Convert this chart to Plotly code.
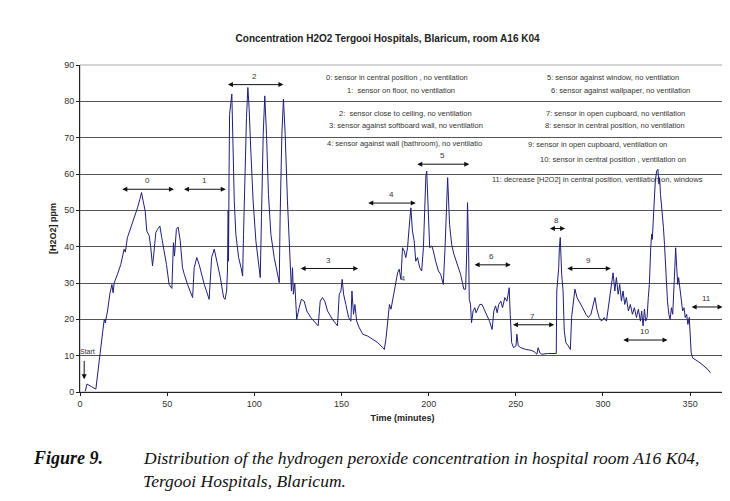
import plotly.graph_objects as go

# H2O2 readings (time in minutes, concentration in ppm)
time_min = [
    3.0, 4.0, 6.5, 9.1, 11.0, 12.9, 13.9, 14.5, 15.8, 17.1, 18.3, 19.0, 19.6, 21.5, 23.4,
    25.3, 26.0, 27.2, 29.2, 31.1, 33.0, 34.3, 35.3, 36.2, 37.4, 38.3, 39.7, 40.6, 41.6,
    42.5, 43.5, 44.5, 45.8, 46.9, 48.3, 49.6, 51.1, 52.7, 53.6, 54.2, 55.3, 56.3, 57.5,
    58.8, 59.8, 61.7, 64.6, 65.5, 67.0, 68.4, 71.3, 74.1, 75.5, 77.0, 78.5, 80.5, 82.4,
    83.2, 84.1, 84.6, 85.0, 85.2, 85.5, 85.8, 87.1, 87.5, 88.5, 89.4, 91.0, 92.4, 93.3,
    93.8, 94.6, 95.5, 96.3, 97.0, 98.0, 99.3, 100.9, 102.4, 103.4, 104.1, 105.1, 106.0,
    107.0, 108.1, 109.5, 111.4, 113.3, 114.3, 114.8, 115.8, 116.7, 117.7, 119.0, 120.0,
    120.5, 121.3, 121.9, 122.4, 123.2, 124.3, 125.7, 127.0, 128.6, 130.1, 132.4, 135.3,
    136.6, 137.8, 139.1, 140.4, 142.0, 144.8, 147.7, 148.7, 149.7, 150.4, 151.2, 152.5,
    154.1, 155.4, 156.0, 156.9, 157.7, 158.7, 160.2, 162.2, 165.0, 167.9, 170.8, 173.7,
    174.6, 175.6, 176.5, 177.5, 178.4, 180.0, 181.3, 182.2, 183.1, 184.1, 185.0, 186.0,
    186.9, 187.9, 188.8, 189.8, 190.7, 191.7, 192.6, 193.6, 194.9, 196.0, 197.0, 197.8,
    198.4, 198.9, 199.7, 200.6, 201.8, 202.7, 204.0, 205.6, 206.9, 208.4, 209.4, 210.1,
    210.9, 212.0, 213.2, 214.5, 216.4, 218.3, 220.2, 221.2, 221.9, 222.3, 222.9, 223.3,
    224.0, 224.6, 225.5, 226.5, 227.2, 228.4, 229.3, 230.6, 232.2, 233.5, 234.9, 236.4,
    237.4, 238.4, 239.3, 240.2, 241.4, 242.4, 243.7, 244.9, 246.2, 246.8, 247.6, 248.7,
    250.1, 250.6, 251.4, 252.9, 255.8, 258.6, 260.5, 262.1, 262.8, 263.8, 264.9, 268.2,
    273.2, 273.5, 274.0, 274.6, 275.0, 275.5, 276.3, 277.1, 277.8, 278.7, 280.1, 281.3,
    282.0, 283.0, 283.9, 285.1, 286.4, 288.3, 290.2, 291.6, 293.1, 294.4, 295.4, 296.5,
    297.8, 299.2, 300.7, 302.0, 303.1, 303.9, 304.9, 305.8, 306.8, 307.7, 308.7, 309.6,
    310.6, 311.5, 312.5, 313.4, 314.6, 315.7, 316.9, 318.0, 319.2, 320.3, 321.5, 322.2,
    323.0, 323.8, 324.5, 325.3, 326.0, 326.6, 327.4, 327.9, 328.3, 328.9, 329.4, 330.0,
    330.8, 331.5, 332.1, 332.5, 333.0, 333.6, 334.2, 334.7, 335.3, 335.9, 336.4, 337.0,
    337.8, 338.5, 339.3, 340.0, 340.8, 341.4, 341.7, 342.3, 342.9, 343.4, 344.2, 345.0,
    345.7, 346.5, 347.2, 348.0, 348.7, 349.5, 350.1, 350.6, 351.4, 352.9, 354.9, 356.8,
    358.7, 360.2, 361.6,
]
h2o2_ppm = [
    0.2, 2.2, 1.5, 0.8, 8.5, 16.8, 20.0, 19.0, 22.3, 26.9, 29.6, 27.3, 30.0, 32.4, 35.1,
    39.3, 38.5, 42.5, 45.2, 48.0, 50.7, 53.0, 54.9, 52.6, 49.8, 44.3, 43.0, 39.7, 34.7,
    38.8, 43.9, 44.8, 45.7, 42.5, 38.8, 35.1, 29.6, 28.5, 41.1, 37.4, 44.8, 45.4, 41.6,
    34.2, 32.4, 29.6, 26.0, 34.2, 37.0, 35.0, 29.6, 25.5, 37.0, 39.3, 36.0, 31.5, 26.0,
    25.5, 27.8, 33.3, 50.0, 36.0, 60.0, 76.4, 82.0, 71.0, 52.6, 43.4, 37.0, 34.2, 31.9,
    43.4, 61.7, 75.5, 83.8, 78.3, 66.3, 52.6, 41.6, 35.1, 31.5, 48.0, 70.9, 81.5,
    70.9, 54.4, 43.4, 37.0, 32.4, 30.1, 48.0, 70.9, 80.6, 70.9, 52.6, 40.2,
    34.2, 27.8, 34.2, 26.9, 30.0, 20.0, 23.2, 25.5, 25.0, 22.3, 20.5, 19.1,
    18.2, 25.0, 26.0, 25.0, 22.3, 20.0, 18.2, 26.9, 27.8, 31.0, 26.9, 24.1,
    20.5, 19.5, 27.8, 21.4, 24.1, 19.5, 17.7, 15.9, 15.4, 14.5, 13.6, 12.2,
    11.7, 15.0, 18.6, 24.1, 22.8, 26.9, 30.0, 32.8, 33.8, 31.0, 39.7, 38.8,
    37.0, 39.7, 45.2, 50.7, 44.3, 41.6, 36.0, 37.0, 34.2, 33.3, 39.7, 53.5,
    59.4, 60.8, 48.9, 39.7, 40.2, 38.8, 36.0, 33.3, 32.4, 29.6, 39.7, 51.7,
    59.0, 46.1, 40.6, 37.9, 35.1, 32.4, 28.3, 28.3, 39.7, 52.1, 39.7, 25.5,
    24.1, 19.1, 22.3, 23.2, 21.8, 23.2, 24.1, 24.1, 22.3, 20.9, 19.5, 17.2,
    22.3, 23.7, 21.8, 24.1, 25.0, 23.2, 26.0, 25.0, 28.7, 21.4, 13.6, 12.2,
    12.7, 15.9, 12.7, 12.2, 11.7, 11.5, 11.1, 10.4, 12.2, 10.8, 10.4, 10.6,
    10.6, 27.8, 31.0, 34.2, 39.7, 42.5, 32.4, 27.8, 16.8, 13.6, 12.7, 11.7,
    20.5, 25.0, 28.3, 26.0, 25.0, 23.2, 21.4, 20.5, 21.4, 24.1, 26.0, 22.8,
    20.5, 19.5, 20.5, 19.5, 23.2, 26.0, 29.6, 32.8, 27.8, 31.5, 26.9, 29.6,
    25.0, 27.8, 24.1, 26.0, 22.3, 24.1, 21.4, 23.2, 20.5, 22.8, 19.5, 22.3,
    18.2, 22.8, 19.5, 20.5, 26.0, 29.6, 39.7, 43.4, 42.0, 48.0, 54.4, 58.0,
    60.8, 61.3, 57.2, 59.0, 54.4, 51.7, 48.9, 45.2, 40.6, 35.1, 29.6, 25.0,
    21.4, 20.0, 23.2, 21.4, 29.6, 37.0, 39.7, 34.2, 29.6, 31.5, 27.8, 26.0,
    22.3, 23.2, 20.5, 21.4, 18.6, 20.5, 15.0, 10.8, 9.4, 9.0, 8.3, 7.6,
    6.9, 6.2, 5.3,
]

# measurement phases: double arrows with their number
phase_labels = ['0', '1', '2', '3', '4', '5', '6', '7', '8', '9', '10', '11']
phase_start = [23.4, 58.8, 84.0, 125.7, 164.5, 192.6, 225.5, 247.5, 268.7, 278.7, 310.8, 350.0]
phase_end = [53.9, 83.6, 116.7, 159.6, 192.6, 223.3, 247.1, 272.0, 278.3, 304.5, 337.0, 368.6]
phase_level = [55.8, 55.8, 84.6, 34.0, 52.0, 62.7, 35.0, 18.5, 45.0, 34.0, 14.3, 23.4]

legend_lines = [
    '0: sensor in central position , no ventilation',
    '1:  sensor on floor, no ventilation',
    '2:  sensor close to ceiling, no ventilation',
    '3: sensor against softboard wall, no ventilation',
    '4: sensor against wall (bathroom), no ventilatio',
    '5: sensor against window, no ventilation',
    '6: sensor against wallpaper, no ventilation',
    '7: sensor in open cupboard, no ventilation',
    '8: sensor in central position, no ventilation',
    '9: sensor in open cupboard, ventilation on',
    '10: sensor in central position , ventilation on',
    '11: decrease [H2O2] in central position, ventilation on, windows',
]
legend_x = [182, 184, 187, 187, 186, 306, 310, 307, 307, 297, 305.5, 297]
legend_y = [86.6, 82.9, 76.7, 73.3, 68.5, 86.6, 82.9, 76.7, 73.3, 68.0, 64.1, 58.6]

font = 'Liberation Sans, Arial, sans-serif'
serif = 'Liberation Serif, Times New Roman, serif'

fig = go.Figure()
fig.add_trace(go.Scatter(x=time_min, y=h2o2_ppm, mode='lines',
                         line=dict(color='#1f1f7a', width=1), showlegend=False))

ann = []
for lab, x0, x1, lv in zip(phase_labels, phase_start, phase_end, phase_level):
    ann.append(dict(x=x1, y=lv, ax=x0, ay=lv, xref='x', yref='y', axref='x', ayref='y',
                    text='', showarrow=True, arrowhead=2, arrowside='end+start',
                    arrowsize=1, arrowwidth=1, arrowcolor='#111'))
    ann.append(dict(x=(x0 + x1) / 2, y=lv + 2.3, xref='x', yref='y', text=lab,
                    showarrow=False, font=dict(family=font, size=8, color='#333')))

for txt, lx, ly in zip(legend_lines, legend_x, legend_y):
    ann.append(dict(x=lx, y=ly, xref='x', yref='y', text=txt, showarrow=False,
                    font=dict(family=font, size=7.5, color='#333')))

# start marker
ann.append(dict(x=2.4, y=3.5, ax=2.4, ay=9.0, xref='x', yref='y', axref='x', ayref='y',
                text='', showarrow=True, arrowhead=2, arrowsize=1, arrowwidth=1,
                arrowcolor='#111'))
ann.append(dict(x=4.5, y=11.2, xref='x', yref='y', text='Start', showarrow=False,
                font=dict(family=font, size=7, color='#333')))
ann.append(dict(x=185, y=31.2, xref='x', yref='y', text='4', showarrow=False,
                font=dict(family=font, size=7, color='#333')))

# figure caption
ann.append(dict(x=-0.076, y=-0.2376, xref='paper', yref='paper', xanchor='left',
                text='<b><i>Figure 9.</i></b>', showarrow=False,
                font=dict(family=serif, size=18, color='#111')))
ann.append(dict(x=0.0946, y=-0.2376, xref='paper', yref='paper', xanchor='left',
                text='<i>Distribution of the hydrogen peroxide concentration in hospital room A16 K04,</i>',
                showarrow=False, font=dict(family=serif, size=17.5, color='#111')))
ann.append(dict(x=0.0946, y=-0.309, xref='paper', yref='paper', xanchor='left',
                text='<i>Tergooi Hospitals, Blaricum.</i>',
                showarrow=False, font=dict(family=serif, size=17.5, color='#111')))

fig.update_layout(
    width=730, height=501,
    margin=dict(l=72, r=13, t=57, b=117, autoexpand=False),
    paper_bgcolor='white', plot_bgcolor='white',
    title=dict(text='<b>Concentration H2O2 Tergooi Hospitals, Blaricum, room A16 K04</b>',
               x=0.52, xanchor='center', y=0.94, yanchor='middle',
               font=dict(family=font, size=10, color='#222')),
    annotations=ann,
    shapes=[dict(type='rect', xref='paper', yref='paper', x0=0, y0=0, x1=1, y1=1,
                 line=dict(color='#aaa', width=1), layer='below')],
    xaxis=dict(range=[0, 370], tickvals=[0, 50, 100, 150, 200, 250, 300, 350],
               showgrid=False, zeroline=False, showline=True, linecolor='#222',
               ticks='outside', ticklen=3, tickcolor='#222',
               tickfont=dict(family=font, size=9, color='#333'),
               title=dict(text='<b>Time (minutes)</b>', standoff=6,
                          font=dict(family=font, size=9, color='#222'))),
    yaxis=dict(range=[0, 90], dtick=10, showgrid=True, gridcolor='#555', gridwidth=1,
               zeroline=False, showline=True, linecolor='#222',
               ticks='outside', ticklen=3, tickcolor='#222',
               tickfont=dict(family=font, size=9, color='#333'),
               title=dict(text='<b>[H2O2] ppm</b>', standoff=6,
                          font=dict(family=font, size=9, color='#222'))),
)

fig.write_html("out.html")
